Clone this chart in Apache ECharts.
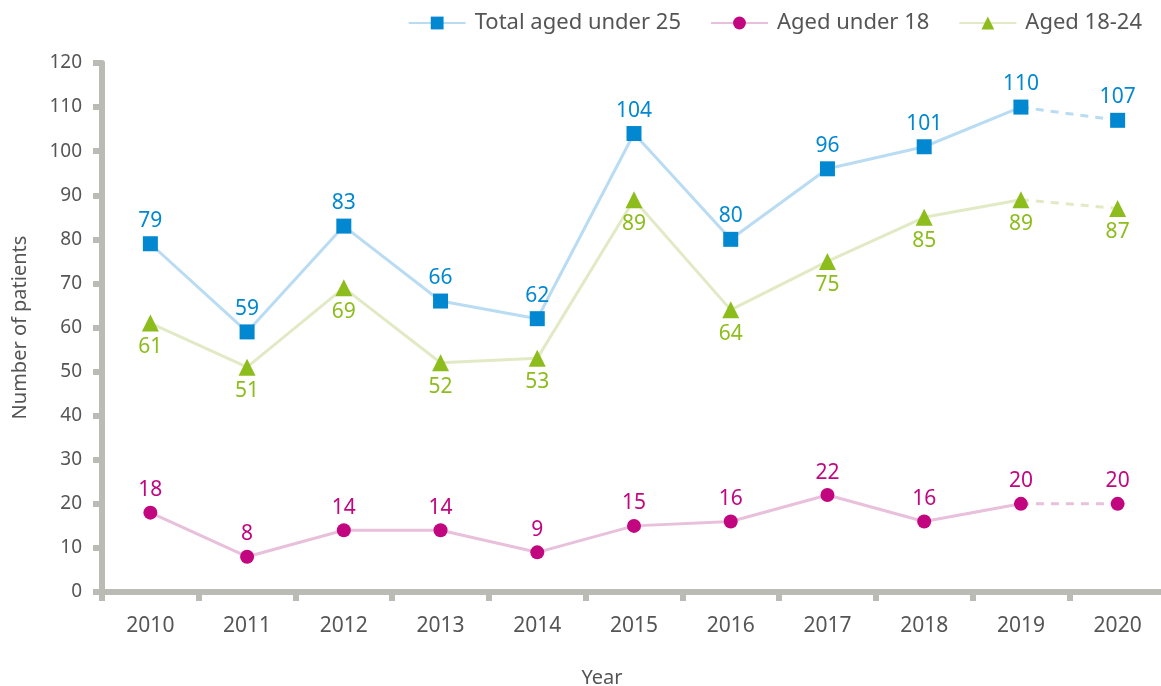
<!DOCTYPE html>
<html><head><meta charset="utf-8">
<script src="https://cdn.jsdelivr.net/npm/echarts@6/dist/echarts.min.js"></script>
<style>html,body{margin:0;padding:0;background:#fff}#c{width:1161px;height:686px}</style>
</head><body><div id="c"></div>
<script>
const years = ['2010','2011','2012','2013','2014','2015','2016','2017','2018','2019','2020'];
const totalUnder25 = [79,59,83,66,62,104,80,96,101,110,107];
const under18 = [18,8,14,14,9,15,16,22,16,20,20];
const aged18to24 = [61,51,69,52,53,89,64,75,85,89,87];
const yTicks = {min:0, max:120, interval:10};

const FONT = 'Noto Sans';
const groups = [
  {name:'Total aged under 25', data: totalUnder25, mark:'#0288d1', line:'#b9dcf3', symbol:'rect', size:15, pos:'top'},
  {name:'Aged under 18', data: under18, mark:'#c2067f', line:'#e8c0dc', symbol:'circle', size:14, pos:'top'},
  {name:'Aged 18-24', data: aged18to24, mark:'#8dbd1c', line:'#e2eac5', symbol:'triangle', size:17, pos:'bottom'}
];
const last = years.length - 1;
const series = [];
groups.forEach(g => {
  const lbl = {show:true, position:g.pos, distance:5, color:g.mark, fontFamily:FONT, fontSize:21};
  series.push({
    name:g.name, type:'line', data:g.data.map((v,i)=> i<last ? v : null),
    symbol:g.symbol, symbolSize:g.size, itemStyle:{color:g.mark},
    lineStyle:{color:g.line, width:3}, label:lbl, z:2
  });
  series.push({
    name:g.name, type:'line',
    data:g.data.map((v,i)=> i===last ? v : (i===last-1 ? {value:v, symbol:'none', label:{show:false}} : null)),
    symbol:g.symbol, symbolSize:g.size, itemStyle:{color:g.mark},
    lineStyle:{color:g.line, width:3, type:[8,7]}, label:lbl, z:2
  });
});

const chart = echarts.init(document.getElementById('c'), null, {renderer:'canvas'});
chart.setOption({
  animation:false,
  textStyle:{fontFamily:FONT},
  legend:{
    data:groups.map(g=>g.name), right:14, top:7, itemWidth:57, itemHeight:16, itemGap:29,
    textStyle:{fontFamily:FONT, fontSize:22, color:'#555', padding:[0,0,0,4]}
  },
  grid:{left:102, right:-5, top:63, bottom:94, outerBoundsMode:'none', containLabel:false},
  xAxis:{
    type:'category', data:years, boundaryGap:true,
    name:'Year', nameLocation:'middle', nameGap:76,
    nameTextStyle:{fontFamily:FONT, fontSize:20, color:'#555', padding:[0,64,0,0]},
    axisLine:{lineStyle:{color:'#bbbbb5', width:6}},
    axisTick:{show:true, length:9, lineStyle:{color:'#bbbbb5', width:6}},
    axisLabel:{fontFamily:FONT, fontSize:21, color:'#555', margin:24}
  },
  yAxis:{
    type:'value', min:yTicks.min, max:yTicks.max, interval:yTicks.interval,
    name:'Number of patients', nameLocation:'middle', nameGap:72,
    nameTextStyle:{fontFamily:FONT, fontSize:20, color:'#555'},
    axisLine:{show:true, lineStyle:{color:'#bbbbb5', width:6}},
    axisTick:{show:true, length:9, lineStyle:{color:'#bbbbb5', width:6}},
    splitLine:{show:false},
    axisLabel:{fontFamily:FONT, fontSize:19, color:'#555', margin:20}
  },
  series:series
});
</script></body></html>
